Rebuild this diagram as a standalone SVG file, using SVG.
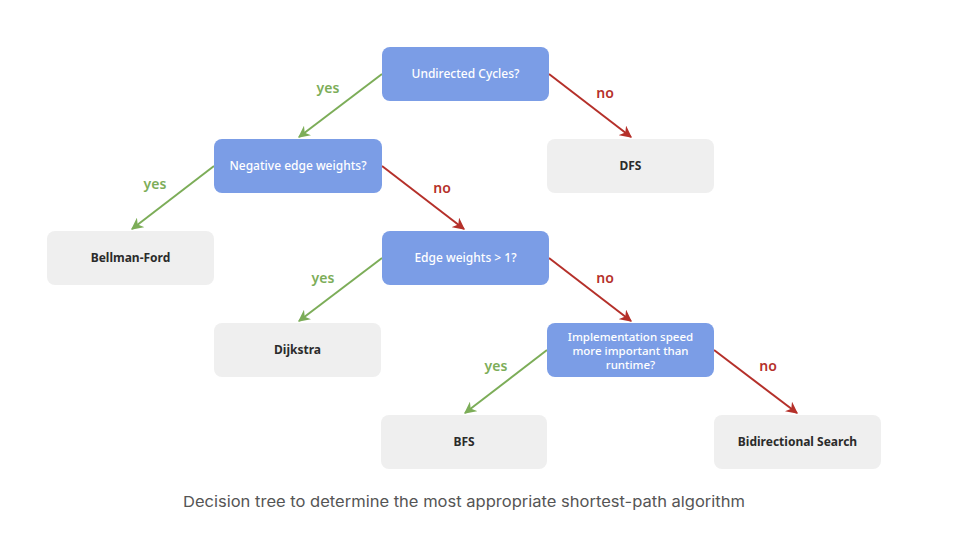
<svg xmlns="http://www.w3.org/2000/svg" width="958" height="542" viewBox="0 0 958 542">
<style>
.q{fill:#7b9de6}
.a{fill:#efefef}
.qt{fill:#ffffff;font-family:"Noto Sans",sans-serif;font-size:12px;font-weight:500;text-anchor:middle}
.qs{font-size:11.5px}
.at{fill:#2b2b2b;font-family:"Noto Sans",sans-serif;font-size:12px;font-weight:700;text-anchor:middle}
.y{stroke:#7cad58;stroke-width:2;fill:none;marker-end:url(#mg)}
.n{stroke:#b5302a;stroke-width:2;fill:none;marker-end:url(#mr)}
.yl{fill:#7cad58;font-family:"Noto Sans",sans-serif;font-size:14px;font-weight:600;text-anchor:middle}
.nl{fill:#b5302a;font-family:"Noto Sans",sans-serif;font-size:14px;font-weight:600;text-anchor:middle}
.cap{fill:#555555;font-family:"Inter",sans-serif;font-size:15px}
</style>
<defs>
<marker id="mg" viewBox="0 0 10 10" refX="9" refY="5" markerWidth="6" markerHeight="6" orient="auto" markerUnits="strokeWidth">
<path d="M0,0 L10,5 L0,10 L3,5 z" fill="#7cad58"/>
</marker>
<marker id="mr" viewBox="0 0 10 10" refX="9" refY="5" markerWidth="6" markerHeight="6" orient="auto" markerUnits="strokeWidth">
<path d="M0,0 L10,5 L0,10 L3,5 z" fill="#b5302a"/>
</marker>
</defs>
<rect width="958" height="542" fill="#ffffff"/>
<g id="connectors">
<line class="y" x1="382" y1="74" x2="299" y2="137"/>
<line class="n" x1="549" y1="74" x2="631" y2="137"/>
<line class="y" x1="214" y1="166" x2="132" y2="229"/>
<line class="n" x1="382" y1="166" x2="464" y2="229"/>
<line class="y" x1="382" y1="258" x2="299" y2="321"/>
<line class="n" x1="549" y1="258" x2="631" y2="321"/>
<line class="y" x1="547" y1="350" x2="465" y2="413"/>
<line class="n" x1="714" y1="350" x2="797" y2="413"/>
<text class="yl" x="328" y="93">yes</text>
<text class="nl" x="605" y="98">no</text>
<text class="yl" x="155" y="189">yes</text>
<text class="nl" x="442" y="193">no</text>
<text class="yl" x="323" y="283">yes</text>
<text class="nl" x="605" y="283">no</text>
<text class="yl" x="496" y="371">yes</text>
<text class="nl" x="768" y="371">no</text>
</g>
<g id="n-undirected"><rect class="q" x="382" y="47" width="167" height="54" rx="8"/><text class="qt" x="465.5" y="78">Undirected Cycles?</text></g>
<g id="n-negative"><rect class="q" x="214" y="139" width="168" height="54" rx="8"/><text class="qt" x="298" y="170">Negative edge weights?</text></g>
<g id="n-dfs"><rect class="a" x="547" y="139" width="167" height="54" rx="8"/><text class="at" x="630.5" y="170">DFS</text></g>
<g id="n-bellman"><rect class="a" x="47" y="231" width="167" height="54" rx="8"/><text class="at" x="130.5" y="262">Bellman-Ford</text></g>
<g id="n-edge"><rect class="q" x="382" y="231" width="167" height="54" rx="8"/><text class="qt" x="465.5" y="262">Edge weights &gt; 1?</text></g>
<g id="n-dijkstra"><rect class="a" x="214" y="323" width="167" height="54" rx="8"/><text class="at" x="297.5" y="354">Dijkstra</text></g>
<g id="n-impl"><rect class="q" x="547" y="323" width="167" height="54" rx="8"/><text class="qt qs" x="630.5" y="341">Implementation speed</text><text class="qt qs" x="630.5" y="355">more important than</text><text class="qt qs" x="630.5" y="369">runtime?</text></g>
<g id="n-bfs"><rect class="a" x="381" y="415" width="166" height="54" rx="8"/><text class="at" x="464" y="446">BFS</text></g>
<g id="n-bidir"><rect class="a" x="714" y="415" width="167" height="54" rx="8"/><text class="at" x="797.5" y="446">Bidirectional Search</text></g>
<text class="cap" x="183" y="507" textLength="562" lengthAdjust="spacingAndGlyphs">Decision tree to determine the most appropriate shortest-path algorithm</text>
</svg>
